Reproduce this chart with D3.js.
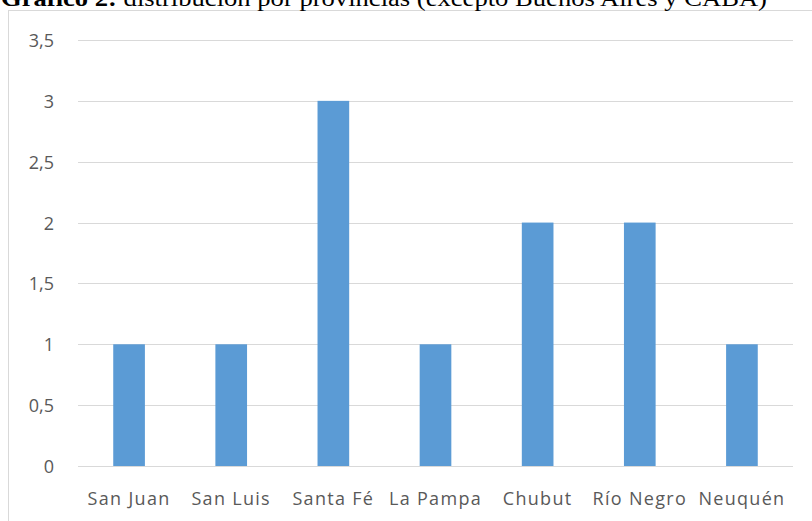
<!DOCTYPE html>
<html><head><meta charset="utf-8">
<script src="https://cdn.jsdelivr.net/npm/d3@7"></script>
<style>
html,body{margin:0;padding:0;background:#fff;overflow:hidden;}
svg{display:block;}
</style></head>
<body>
<svg id="chart" width="812" height="521"></svg>
<script>
const categories = ["San Juan","San Luis","Santa Fé","La Pampa","Chubut","Río Negro","Neuquén"];
const values = [1,1,3,1,2,2,1];
const yTicks = [0,0.5,1,1.5,2,2.5,3,3.5];
const titleBold = "Gráfico 2:";
const titleRest = " distribución por provincias (excepto Buenos Aires y CABA)";

const svg = d3.select("#chart");
const W = 812, H = 521;
const plot = {left:78, right:793, top:40, bottom:466};

// chart area border
svg.append("rect").attr("x",8.5).attr("y",10.5).attr("width",W+20).attr("height",H+20)
  .attr("fill","#fff").attr("stroke","#d9d9d9").attr("stroke-width",1);

const x = d3.scaleBand().domain(categories).range([plot.left, plot.right]).paddingInner(0.69).paddingOuter(0.345);
const y = d3.scaleLinear().domain([0,3.5]).range([plot.bottom, plot.top]);

// gridlines
const yAxis = d3.axisLeft(y).tickValues(yTicks).tickSize(-(plot.right-plot.left)).tickPadding(24)
  .tickFormat(d => d3.format("")(d).replace(".", ","));
const gy = svg.append("g").attr("transform",`translate(${plot.left},0)`).call(yAxis);
gy.select(".domain").remove();
gy.selectAll(".tick line").attr("stroke","#d9d9d9").attr("stroke-width",1).attr("shape-rendering","crispEdges");
gy.selectAll(".tick text").attr("fill","#595959").style("font-family","'Open Sans', Calibri, sans-serif")
  .style("font-size","18px").attr("dy","0.36em");

// bars
svg.append("g").selectAll("rect").data(categories).join("rect")
  .attr("x", d => x(d)).attr("width", x.bandwidth())
  .attr("y", (d,i) => y(values[i])).attr("height", (d,i) => y(0) - y(values[i]))
  .attr("fill","#5b9bd5");

// x axis labels
const xAxis = d3.axisBottom(x).tickSize(0).tickPadding(26);
const gx = svg.append("g").attr("transform",`translate(0,${plot.bottom})`).call(xAxis);
gx.select(".domain").remove();
gx.selectAll(".tick text").attr("fill","#595959").style("font-family","'Open Sans', Calibri, sans-serif")
  .style("font-size","18px").style("letter-spacing","1.3px");

// title (cut at top)
const t = svg.append("text").attr("x",1).attr("y",6)
  .style("font-family","'Liberation Serif','Times New Roman',serif").style("font-size","23px").attr("fill","#000")
  .attr("textLength",766).attr("lengthAdjust","spacingAndGlyphs");
t.append("tspan").attr("font-weight","bold").text(titleBold);
t.append("tspan").text(titleRest);
</script>
</body></html>
